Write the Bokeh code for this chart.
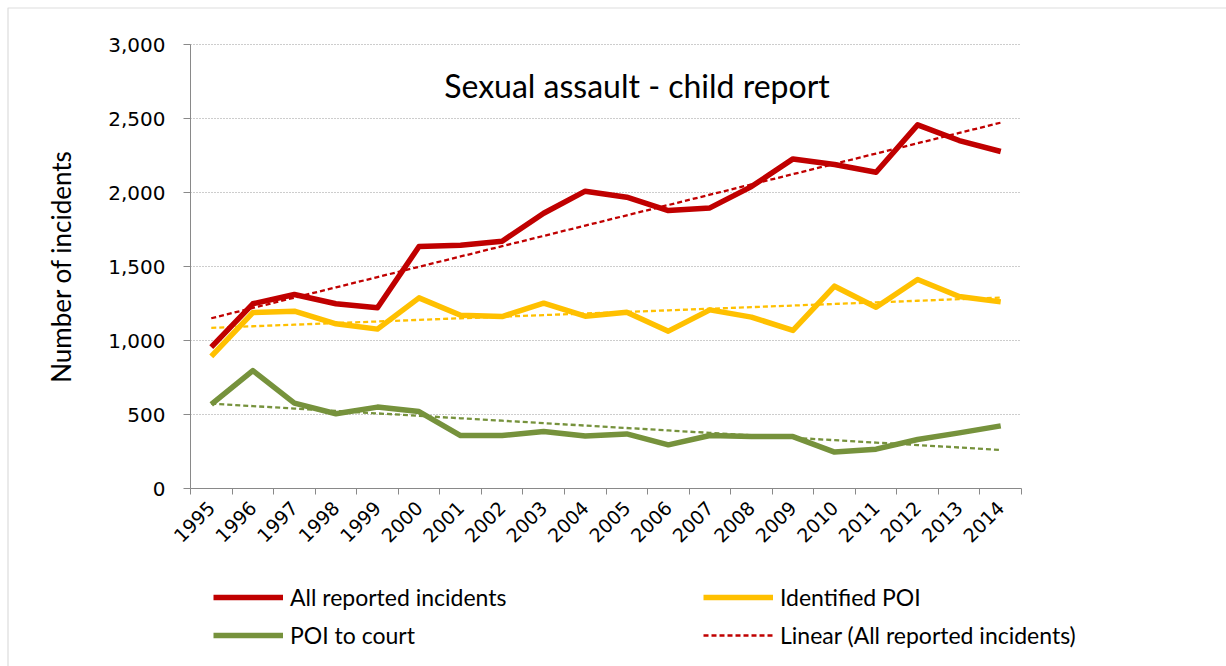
import numpy as np
from bokeh.plotting import figure
from bokeh.models import (Range1d, FixedTicker, NumeralTickFormatter, Legend, LegendItem,
                          Label, BoxAnnotation)
from bokeh.embed import file_html
from bokeh.resources import INLINE

years = [1995, 1996, 1997, 1998, 1999, 2000, 2001, 2002, 2003, 2004,
         2005, 2006, 2007, 2008, 2009, 2010, 2011, 2012, 2013, 2014]
all_reported = [955, 1248, 1311, 1248, 1221, 1635, 1644, 1671, 1860, 2009,
                1968, 1878, 1896, 2040, 2227, 2189, 2137, 2457, 2351, 2277]
identified_poi = [892, 1189, 1198, 1113, 1077, 1288, 1171, 1162, 1252, 1164,
                  1191, 1063, 1207, 1158, 1068, 1367, 1225, 1412, 1297, 1261]
poi_to_court = [568, 797, 577, 505, 550, 520, 358, 358, 385, 354,
                369, 295, 358, 351, 351, 246, 266, 331, 376, 423]
y_ticks = [0, 500, 1000, 1500, 2000, 2500, 3000]
title_text = "Sexual assault - child report"
y_label = "Number of incidents"

RED = "#C00000"
YEL = "#FFC000"
GRN = "#76923C"
AXIS = "#898989"
CAL = "Lato"

# ---- layout (pixels) ----
W, H = 1226, 666
PL, PR = 190, 1021      # plot area left / right
PT, PB = 44, 488        # plot area top / bottom
x0, x1 = years[0] - 0.5, years[-1] + 0.5
y0, y1 = y_ticks[0], y_ticks[-1]
xs = (PR - PL) / (x1 - x0)
ys = (PB - PT) / (y1 - y0)
def xd(px):
    return x0 + (px - PL) / xs
def yd(py):
    return y0 + (PB - py) / ys

def trend(vals):
    k, b = np.polyfit(np.array(years, dtype=float), np.array(vals, dtype=float), 1)
    return [k * x + b for x in years]

p = figure(frame_width=W, frame_height=H,
           min_border_left=0, min_border_right=0, min_border_top=0, min_border_bottom=0,
           x_range=Range1d(xd(0), xd(W)), y_range=Range1d(yd(H), yd(0)),
           output_backend="svg", toolbar_location=None,
           background_fill_color="white", border_fill_color="white")
p.outline_line_color = None
p.xgrid.grid_line_color = None
p.ygrid.grid_line_color = None

# outer chart border (only its top and left sides fall inside the view)
p.add_layout(BoxAnnotation(left=xd(7.5), right=xd(W + 50), top=yd(7.5), bottom=yd(H + 50),
                           fill_alpha=0, line_color="#8c8c8c", line_width=1.2))

# horizontal dotted grid lines from the tick values
gy = y_ticks[1:]
p.segment(x0=[x0] * len(gy), x1=[x1] * len(gy), y0=gy, y1=gy,
          line_color="#9a9a9a", line_dash="1 2", line_width=1)

# y axis
p.yaxis.fixed_location = x0
p.yaxis.bounds = (y0, y1)
p.yaxis.ticker = FixedTicker(ticks=y_ticks)
p.yaxis.formatter = NumeralTickFormatter(format="0,0")
p.yaxis.axis_line_color = AXIS
p.yaxis.major_tick_line_color = AXIS
p.yaxis.major_tick_out = 7
p.yaxis.major_tick_in = 0
p.yaxis.minor_tick_line_color = None
p.yaxis.major_label_text_font = "DejaVu Sans"
p.yaxis.major_label_text_font_size = "20px"
p.yaxis.major_label_text_color = "black"
p.yaxis.major_label_standoff = 18
p.yaxis.axis_label = y_label
p.yaxis.axis_label_text_font = CAL
p.yaxis.axis_label_text_font_size = "26px"
p.yaxis.axis_label_text_font_style = "normal"
p.yaxis.axis_label_text_color = "black"
p.yaxis.axis_label_standoff = 28

# x axis
bounds = [y - 0.5 for y in years] + [years[-1] + 0.5]
p.xaxis.fixed_location = y0
p.xaxis.bounds = (x0, x1)
p.xaxis.ticker = FixedTicker(ticks=years, minor_ticks=bounds)
p.xaxis.axis_line_color = AXIS
p.xaxis.major_tick_line_color = None
p.xaxis.minor_tick_line_color = AXIS
p.xaxis.minor_tick_out = 6
p.xaxis.minor_tick_in = 0
p.xaxis.major_tick_out = 0
p.xaxis.major_label_orientation = np.pi / 4
p.xaxis.major_label_text_font = "DejaVu Sans"
p.xaxis.major_label_text_font_size = "19px"
p.xaxis.major_label_text_color = "black"
p.xaxis.major_label_standoff = 10

# trend lines
p.line(years, trend(identified_poi), line_color=YEL, line_width=2.3, line_dash="5 3")
p.line(years, trend(poi_to_court), line_color=GRN, line_width=2.3, line_dash="5 3")

r_all = p.line(years, all_reported, line_color=RED, line_width=5.5, line_join="round")
r_id = p.line(years, identified_poi, line_color=YEL, line_width=5.5, line_join="round")
r_court = p.line(years, poi_to_court, line_color=GRN, line_width=5.5, line_join="round")
r_lin = p.line(years, trend(all_reported), line_color=RED, line_width=2.3, line_dash="5 3")

p.add_layout(Label(x=xd(636.5), y=yd(85), text=title_text, text_align="center",
                   text_baseline="middle", text_font=CAL,
                   text_font_size="32px", text_color="black"))

def mk_legend(items, x):
    return Legend(items=items, location=(x, H - 650), orientation="vertical",
                  glyph_width=70, glyph_height=30, label_standoff=7, spacing=8,
                  label_height=30, padding=0, margin=0, border_line_color=None,
                  background_fill_alpha=0,
                  label_text_font=CAL, label_text_font_size="23px",
                  label_text_color="black")

p.add_layout(mk_legend([LegendItem(label="All reported incidents", renderers=[r_all]),
                        LegendItem(label="POI to court", renderers=[r_court])], 213), "center")
p.add_layout(mk_legend([LegendItem(label="Identified POI", renderers=[r_id]),
                        LegendItem(label="Linear (All reported incidents)", renderers=[r_lin])], 703), "center")

open("out.html", "w").write(file_html(p, INLINE))
